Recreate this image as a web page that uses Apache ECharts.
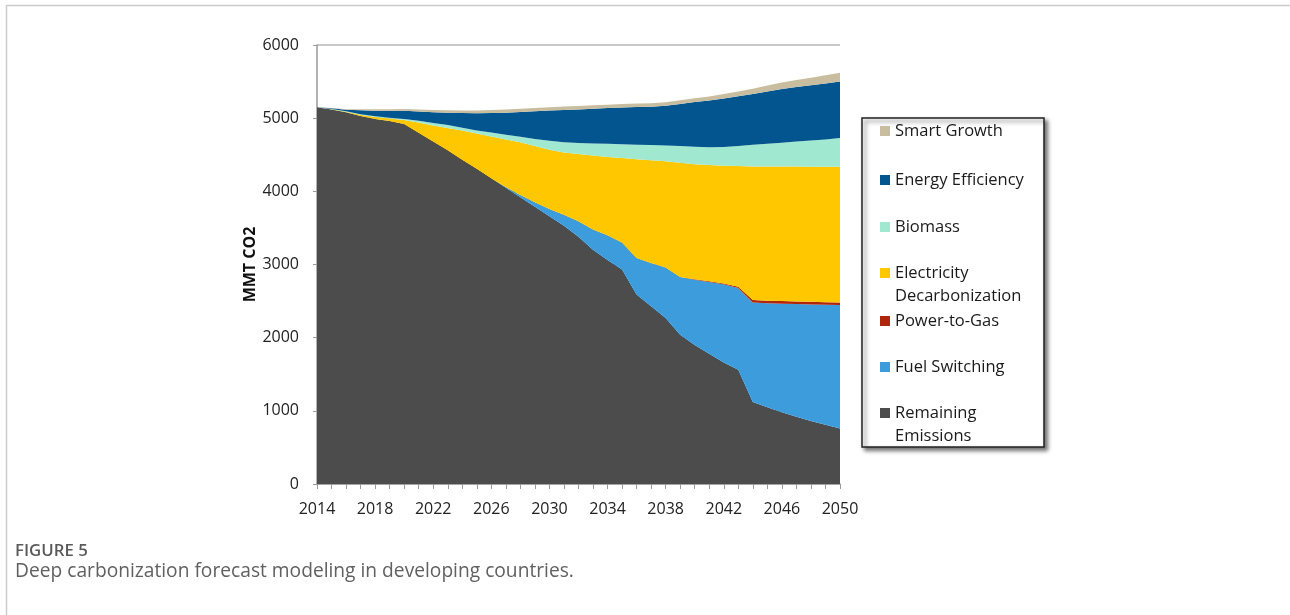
<!DOCTYPE html>
<html>
<head>
<meta charset="utf-8">
<script src="https://cdn.jsdelivr.net/npm/echarts@6/dist/echarts.min.js"></script>
<style>
html,body{margin:0;padding:0;background:#fff;}
#chart{width:1290px;height:615px;}
</style>
</head>
<body>
<div id="chart"></div>
<script>
const years = ['2014','2015','2016','2017','2018','2019','2020','2021','2022','2023','2024','2025','2026','2027','2028','2029','2030','2031','2032','2033','2034','2035','2036','2037','2038','2039','2040','2041','2042','2043','2044','2045','2046','2047','2048','2049','2050'];

const remainingEmissions = [5150,5120,5080,5030,4990,4960,4920,4800,4680,4560,4430,4310,4180,4050,3920,3790,3660,3530,3380,3200,3060,2930,2590,2430,2270,2040,1900,1780,1660,1560,1120,1050,980,920,860,810,760];
const fuelSwitching = [0,0,0,0,0,0,0,0,0,0,0,0,0,10,30,60,100,150,210,280,340,370,500,590,690,790,890,980,1070,1120,1360,1420,1485,1540,1595,1640,1685];
const powerToGas = [0,0,0,0,0,0,0,0,0,0,0,0,0,0,0,0,0,0,0,0,0,0,0,0,0,0,10,10,10,15,35,35,35,35,35,35,35];
const electricityDecarbonization = [0,3,8,15,25,35,55,140,220,305,400,480,570,650,720,770,810,850,920,1010,1070,1155,1350,1405,1450,1560,1570,1590,1610,1650,1825,1835,1840,1843,1847,1852,1857];
const biomass = [0,2,5,8,10,12,15,25,35,40,40,40,55,65,75,95,120,140,150,165,180,190,198,208,218,230,240,243,255,275,295,310,325,342,358,373,391];
const energyEfficiency = [0,10,22,55,77,93,110,125,145,170,200,238,265,300,340,380,415,442,460,475,488,500,514,524,542,575,610,637,665,680,695,715,735,745,755,765,772];
const smartGrowth = [0,3,8,15,20,22,25,28,30,32,35,38,40,42,43,44,45,46,46,47,47,48,48,48,49,50,52,55,60,66,72,80,88,96,104,113,122];

const yTicks = {min: 0, max: 6000, interval: 1000};

const seriesDefs = [
  {name: 'Remaining Emissions', data: remainingEmissions, color: '#4C4C4C'},
  {name: 'Fuel Switching', data: fuelSwitching, color: '#3C9CDC'},
  {name: 'Power-to-Gas', data: powerToGas, color: '#B0260C'},
  {name: 'Electricity Decarbonization', data: electricityDecarbonization, color: '#FFC700'},
  {name: 'Biomass', data: biomass, color: '#A0E8CF'},
  {name: 'Energy Efficiency', data: energyEfficiency, color: '#02558F'},
  {name: 'Smart Growth', data: smartGrowth, color: '#C8BD9F'}
];

// legend entries: name, first-line centre y, two-line?
const legendRows = [
  ['Smart Growth', 131, false],
  ['Energy Efficiency', 180, false],
  ['Biomass', 227, false],
  ['Electricity Decarbonization', 273, true],
  ['Power-to-Gas', 321, false],
  ['Fuel Switching', 367, false],
  ['Remaining Emissions', 413, true]
];

const FONT = '"Open Sans", "DejaVu Sans", sans-serif';

const legends = legendRows.map(([name, cy, two]) => ({
  data: [name],
  orient: 'vertical',
  left: 880,
  top: two ? cy - 34.5 : cy - 11.5,
  padding: 0,
  itemWidth: 10,
  itemHeight: 10,
  itemGap: 0,
  icon: 'rect',
  selectedMode: false,
  formatter: n => n === 'Electricity Decarbonization' ? ' \nElectricity\nDecarbonization' :
                  n === 'Remaining Emissions' ? ' \nRemaining\nEmissions' : n,
  textStyle: {
    fontFamily: FONT, fontSize: 16.5, color: '#1a1a1a', lineHeight: 23,
    backgroundColor: 'rgba(255,255,255,0)'
  }
}));

const chart = echarts.init(document.getElementById('chart'), null, {renderer: 'canvas'});
chart.setOption({
  animation: false,
  backgroundColor: '#fff',
  grid: {left: 317, top: 45, right: 450, bottom: 131, containLabel: false},
  legend: legends,
  xAxis: {
    type: 'category',
    data: years,
    boundaryGap: false,
    axisLine: {show: true, lineStyle: {color: '#9a9a9a', width: 1.5}},
    axisTick: {show: true, interval: 0, length: 5, lineStyle: {color: '#9a9a9a'}},
    axisLabel: {interval: 3, margin: 17, fontFamily: FONT, fontSize: 16, color: '#222'},
    splitLine: {show: false}
  },
  yAxis: {
    type: 'value',
    min: yTicks.min, max: yTicks.max, interval: yTicks.interval,
    name: 'MMT CO2',
    nameLocation: 'middle',
    nameGap: 48,
    nameTextStyle: {fontFamily: FONT, fontSize: 16, fontWeight: 'bold', color: '#111'},
    axisLine: {show: true, lineStyle: {color: '#9a9a9a', width: 1.5}},
    axisTick: {show: true, length: 4, lineStyle: {color: '#9a9a9a'}},
    axisLabel: {margin: 18, fontFamily: FONT, fontSize: 16, color: '#222', formatter: v => String(v)},
    splitLine: {show: true, lineStyle: {color: '#b5b5b5', width: 1.5}}
  },
  series: seriesDefs.map(s => ({
    name: s.name,
    type: 'line',
    stack: 'total',
    data: s.data,
    symbol: 'none',
    showSymbol: false,
    lineStyle: {width: 0, color: s.color},
    itemStyle: {color: s.color},
    areaStyle: {color: s.color, opacity: 1},
    emphasis: {disabled: true}
  })),
  graphic: [
    {type: 'line', z: -1, shape: {x1: 6, y1: 5.5, x2: 1290, y2: 5.5}, style: {stroke: '#cccccc', lineWidth: 1.5}},
    {type: 'line', z: -1, shape: {x1: 6.5, y1: 5, x2: 6.5, y2: 615}, style: {stroke: '#cccccc', lineWidth: 1.5}},
    {type: 'rect', z: -1, shape: {x: 862, y: 118, width: 182, height: 329},
     style: {fill: '#fff', stroke: '#222', lineWidth: 1.5, shadowBlur: 4, shadowOffsetX: 3, shadowOffsetY: 3, shadowColor: 'rgba(0,0,0,0.55)'}},
    {type: 'text', x: 15, y: 551, style: {text: 'FIGURE 5', font: '600 16.8px ' + FONT, fill: '#5a5a5a', verticalAlign: 'middle'}},
    {type: 'text', x: 15, y: 572, style: {text: 'Deep carbonization forecast modeling in developing countries.', font: '19.2px ' + FONT, fill: '#606060', verticalAlign: 'middle'}}
  ]
});
</script>
</body>
</html>
